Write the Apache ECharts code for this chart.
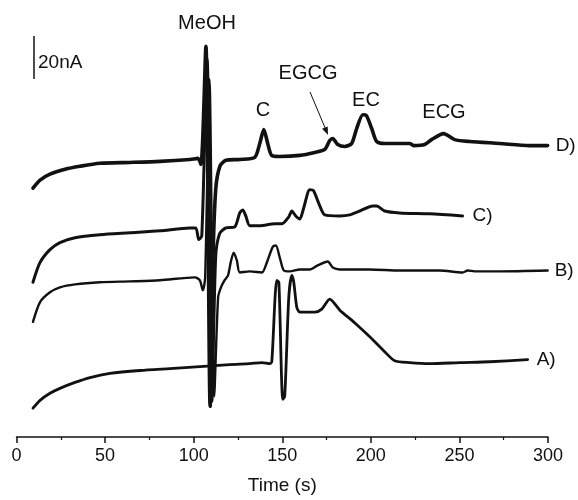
<!DOCTYPE html>
<html>
<head>
<meta charset="utf-8">
<script src="https://cdn.jsdelivr.net/npm/echarts@6/dist/echarts.min.js"></script>
<style>
  html, body { margin: 0; padding: 0; background: #fff; }
  #chart { width: 578px; height: 500px; }
</style>
</head>
<body>
<div id="chart"></div>
<script>
// time (s) and current (nA, on a hidden axis, traces stacked by offset)
const timeD = [9.3, 13.3, 18.9, 27.4, 35.8, 47.1, 64, 81, 97.9, 102.4, 104.1, 106.9, 109.3, 110.9, 112.5, 114.8, 118.2, 126, 134.5, 137.3, 139.6, 141.8, 144, 148.6, 159.9, 168.4, 174, 176.8, 178.5, 181.3, 185.3, 189.2, 192, 195.5, 197.3, 200.5, 203.3, 207.8, 221.9, 224.2, 230.4, 234.3, 241.1, 247.3, 255.8, 272.7, 289.6, 299.8];
const currD = [116.7, 120.5, 123.3, 125.6, 127.0, 128.4, 128.8, 129.3, 130.2, 130.7, 127.9, 183.3, 14.4, 84.2, 116.7, 127.0, 129.8, 130.2, 131.2, 137.7, 144.2, 137.7, 132.1, 131.6, 132.1, 133.5, 134.9, 139.1, 140.0, 137.2, 136.3, 137.7, 144.7, 151.2, 151.0, 144.7, 138.6, 137.7, 137.7, 136.7, 137.2, 139.5, 142.3, 139.5, 138.6, 137.7, 136.7, 136.7];

const timeC = [9.3, 13.3, 18.9, 24.5, 33, 47.1, 64, 81, 97.9, 101.2, 102.9, 104.6, 107.6, 110.3, 112.4, 114.6, 118.2, 123.2, 126, 127.7, 129.4, 131.7, 137.3, 145.8, 149.8, 153.7, 155.4, 157.6, 159.9, 162.1, 165.5, 167.6, 171.2, 174, 182.5, 188.1, 192.6, 201.2, 203.3, 207.8, 216.3, 233.2, 251.8];
const currC = [72.6, 81.9, 87.9, 91.2, 93.5, 94.9, 95.8, 96.7, 98.1, 98.1, 92.6, 94.4, 177.2, 16.7, 84.2, 95.3, 98.1, 98.6, 105.1, 106.5, 103.7, 99.1, 99.1, 100.0, 100.0, 103.3, 106.0, 103.7, 102.3, 107.4, 116.0, 115.6, 108.4, 104.2, 103.7, 104.2, 105.6, 108.4, 108.4, 106.0, 105.1, 104.7, 103.7];

const timeB = [9.3, 13.3, 18.9, 24.5, 33, 47.1, 64, 81, 100.7, 103.5, 105.2, 106.5, 108.9, 111.6, 113.8, 115.4, 117.4, 119.4, 120.9, 122.6, 124.4, 126, 131.7, 138.5, 141.3, 144.7, 146.4, 148.6, 150.9, 154.3, 159.9, 165.5, 170, 175.7, 178.5, 182.5, 199.4, 216.3, 238.9, 251.8, 254.7, 258.6, 272.7, 299.8];
const currB = [54.0, 63.3, 67.9, 70.2, 71.6, 72.6, 73.0, 73.5, 74.9, 73.5, 68.8, 74.9, 167.9, 19.1, 65.6, 70.2, 73.5, 75.8, 81.9, 86.5, 82.8, 77.2, 77.7, 77.2, 81.9, 89.3, 89.8, 84.2, 78.1, 77.7, 78.6, 78.6, 80.5, 82.3, 79.5, 78.6, 78.6, 78.1, 78.1, 77.2, 78.1, 77.7, 77.7, 78.1];

const timeA = [9.3, 13.3, 18.9, 24.5, 33, 41.5, 52.7, 69.7, 86.6, 103.5, 120.4, 131.7, 138.5, 143, 144.1, 146.9, 148.1, 150.3, 151.4, 153.7, 155.4, 156.5, 158.2, 159.9, 168.4, 172.3, 176.8, 182.5, 191, 199.4, 207.8, 213.4, 221.9, 233.2, 250.1, 267.1, 288.5];
const currA = [13.5, 17.2, 20.5, 22.8, 25.6, 27.9, 29.8, 31.2, 32.1, 33.0, 34.0, 34.4, 34.9, 34.4, 35.3, 73.5, 72.6, 17.7, 19.1, 65.6, 75.8, 72.6, 60.9, 58.6, 58.6, 60.0, 64.7, 59.5, 53.5, 47.0, 40.0, 35.8, 34.9, 34.4, 34.9, 35.3, 36.3];

const traceNames = ['D)', 'C)', 'B)', 'A)'];
const xTicks = [0, 50, 100, 150, 200, 250, 300];

function zip(t, v) {
  return t.map((x, i) => [x, v[i]]);
}

const font = 'Liberation Sans, Arial, sans-serif';

function trace(name, t, v, width, dist) {
  return {
    name: name,
    type: 'line',
    data: zip(t, v),
    showSymbol: false,
    symbol: 'none',
    smooth: 0.25,
    lineStyle: { color: '#111', width: width, join: 'round', cap: 'round' },
    endLabel: {
      show: true,
      formatter: name,
      distance: dist,
      color: '#111',
      fontSize: 19,
      fontFamily: font
    },
    silent: true,
    z: 3
  };
}

const option = {
  animation: false,
  backgroundColor: '#fff',
  grid: { left: 16.5, right: 30, top: 0, bottom: 59 },
  xAxis: {
    type: 'value',
    min: xTicks[0],
    max: xTicks[xTicks.length - 1],
    interval: 50,
    name: 'Time (s)',
    nameLocation: 'middle',
    nameGap: 39,
    nameTextStyle: { color: '#111', fontSize: 19, fontFamily: font },
    axisLine: { show: true, lineStyle: { color: '#111', width: 1.5 } },
    axisTick: { show: true, length: 6, lineStyle: { color: '#111', width: 1.5 } },
    minorTick: { show: true, splitNumber: 2, length: 3, lineStyle: { color: '#111', width: 1.2 } },
    axisLabel: { color: '#111', fontSize: 18, fontFamily: font, margin: 10 },
    splitLine: { show: false }
  },
  yAxis: {
    type: 'value',
    min: 0,
    max: 205,
    show: false
  },
  series: [
    trace(traceNames[0], timeD, currD, 3.6, 8),
    trace(traceNames[1], timeC, currC, 3, 10),
    trace(traceNames[2], timeB, currB, 2.4, 7),
    trace(traceNames[3], timeA, currA, 2.8, 9)
  ],
  graphic: [
    // 20 nA scale bar
    { type: 'line', shape: { x1: 34, y1: 36, x2: 34, y2: 79 }, style: { stroke: '#111', lineWidth: 1.5 } },
    { type: 'text', left: 38, top: 53, style: { text: '20nA', fill: '#111', font: '19px ' + font } },
    { type: 'text', x: 207, y: 23, style: { text: 'MeOH', fill: '#111', font: '20px ' + font, align: 'center', verticalAlign: 'middle' } },
    { type: 'text', x: 263, y: 110, style: { text: 'C', fill: '#111', font: '20px ' + font, align: 'center', verticalAlign: 'middle' } },
    { type: 'text', x: 308, y: 73, style: { text: 'EGCG', fill: '#111', font: '20px ' + font, align: 'center', verticalAlign: 'middle' } },
    { type: 'text', x: 366, y: 100, style: { text: 'EC', fill: '#111', font: '20px ' + font, align: 'center', verticalAlign: 'middle' } },
    { type: 'text', x: 444, y: 112, style: { text: 'ECG', fill: '#111', font: '20px ' + font, align: 'center', verticalAlign: 'middle' } },
    // arrow to the EGCG peak
    { type: 'line', shape: { x1: 310, y1: 92, x2: 326, y2: 130 }, style: { stroke: '#111', lineWidth: 1 } },
    { type: 'polygon', shape: { points: [[328, 135], [327.7, 126.4], [322.1, 128.8]] }, style: { fill: '#111' } }
  ]
};

const myChart = echarts.init(document.getElementById('chart'));
myChart.setOption(option);
</script>
</body>
</html>
